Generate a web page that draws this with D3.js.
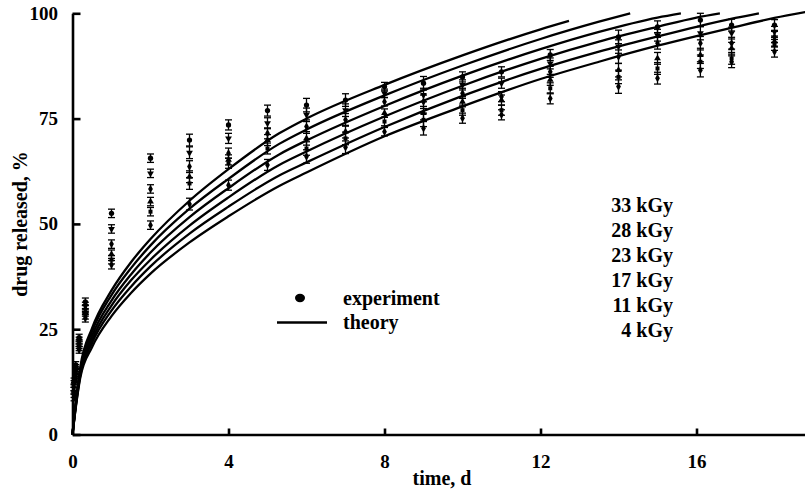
<!DOCTYPE html>
<html>
<head>
<meta charset="utf-8">
<script src="https://cdn.jsdelivr.net/npm/d3@7"></script>
<style>
  body { margin: 0; background: #fff; }
  svg text { font-family: "Liberation Serif", "Times New Roman", serif; font-weight: bold; fill: #000; }
</style>
</head>
<body>
<svg id="chart"></svg>
<script>
// Measurement times (days) and drug released (%) per dose
const expTimes = [0.04, 0.083, 0.17, 0.33, 1, 2, 3, 4, 5, 6, 7, 8, 9, 10, 11, 12.25, 14, 15, 16.1, 16.9, 18];
const exp33 = [12.6, 16.5, 23.0, 31.5, 52.5, 65.6, 69.9, 73.5, 76.9, 78.2, 79.4, 82.6, 83.4, 84.9, 86.1, 90.1, 94.4, 96.8, 98.4, 97.2, 97.2];
const exp28 = [12.0, 15.8, 22.3, 30.5, 48.8, 62.0, 66.9, 70.3, 73.9, 75.9, 77.0, 81.0, 80.6, 83.0, 83.4, 88.1, 92.1, 94.8, 95.3, 95.3, 95.6];
const exp23 = [11.2, 15.2, 21.7, 29.8, 45.2, 58.3, 63.6, 66.8, 71.5, 73.1, 74.7, 79.0, 79.0, 81.0, 80.2, 86.1, 89.7, 92.9, 92.9, 92.9, 94.4];
const exp17 = [10.4, 14.6, 21.2, 29.0, 42.8, 55.3, 61.2, 65.2, 69.9, 70.3, 71.9, 76.3, 76.3, 79.0, 79.4, 84.2, 86.5, 89.3, 90.1, 91.7, 93.3];
const exp11 = [9.6, 14.0, 20.7, 28.3, 41.5, 52.9, 59.6, 64.4, 67.9, 67.9, 70.3, 74.3, 74.7, 77.0, 77.0, 82.2, 84.9, 86.9, 88.5, 89.3, 92.5];
const exp4 = [8.8, 13.4, 20.1, 27.6, 40.3, 49.7, 54.7, 59.2, 64.0, 66.0, 68.2, 71.9, 72.7, 75.1, 75.9, 79.8, 82.6, 84.6, 86.5, 88.5, 90.9];
// error (+/-) at each time
const expErr = [0.8, 0.8, 0.8, 0.9, 1.0, 1.0, 1.4, 1.2, 1.3, 1.6, 1.5, 1.0, 1.6, 1.2, 1.2, 1.3, 1.6, 1.4, 1.6, 1.4, 1.3];

// Theory curves
const theoryT = [0, 0.1, 0.2, 0.5, 1, 1.5, 2, 3, 4, 5.3, 6, 8, 10, 12];
const theory33 = [0, 9.0, 16.0, 25.2, 34.2, 40.9, 46.4, 55.5, 63.0, 71.5, 75.0, 83.0, 90.0, 96.2];
const theory28 = [0, 8.7, 15.4, 24.4, 33.1, 39.5, 44.9, 53.6, 60.7, 69.0, 72.4, 80.5, 87.6, 93.9];
const theory23 = [0, 8.4, 14.9, 23.4, 31.8, 38.0, 43.2, 51.6, 58.5, 66.5, 69.8, 78.0, 85.2, 91.5];
const theory17 = [0, 8.1, 14.4, 22.5, 30.6, 36.6, 41.5, 49.6, 56.3, 64.0, 67.2, 75.5, 82.8, 89.2];
const theory11 = [0, 7.8, 14.0, 21.7, 29.4, 35.1, 39.9, 47.7, 54.1, 61.5, 64.6, 73.0, 80.4, 86.8];
const theory4 = [0, 7.5, 13.5, 20.7, 28.1, 33.6, 38.2, 45.6, 51.8, 59.0, 62.2, 70.8, 77.9, 84.4];
// tails after t = 12 (each curve stops near 100 %)
const tail33T = [12.73], tail33 = [98.2];
const tail28T = [13.5, 14.3], tail28 = [98.0, 100];
const tail23T = [13.5, 15, 15.6], tail23 = [95.6, 99.0, 100];
const tail17T = [13.5, 15, 16, 16.6], tail17 = [93.3, 96.8, 99.0, 100];
const tail11T = [13.5, 15, 16, 17, 17.6], tail11 = [90.9, 94.5, 96.8, 98.9, 100];
const tail4T = [13.5, 15, 16, 17, 18, 18.8], tail4 = [88.5, 92.3, 94.6, 96.8, 98.9, 100.3];

const doseLabels = ["33 kGy", "28 kGy", "23 kGy", "17 kGy", "11 kGy", "4 kGy"];
const xTicks = [0, 4, 8, 12, 16];
const yTicks = [0, 25, 50, 75, 100];

const W = 805, H = 494;
const svg = d3.select("#chart").attr("width", W).attr("height", H);

const x = d3.scaleLinear().domain([0, 18.8]).range([72.5, 805.7]);
const y = d3.scaleLinear().domain([0, 100]).range([434.5, 13.3]);

// theory lines
const theorySets = [
  [theory33, tail33T, tail33], [theory28, tail28T, tail28], [theory23, tail23T, tail23],
  [theory17, tail17T, tail17], [theory11, tail11T, tail11], [theory4, tail4T, tail4]
];
const line = d3.line().x(d => x(d[0])).y(d => y(d[1])).curve(d3.curveMonotoneX);
theorySets.forEach(s => {
  const pts = theoryT.map((t, i) => [t, s[0][i]]).concat(s[1].map((t, i) => [t, s[2][i]]));
  svg.append("path")
    .datum(pts)
    .attr("d", line)
    .attr("fill", "none")
    .attr("stroke", "#000")
    .attr("stroke-width", 2.3);
});

// experimental points with error bars
const expSets = [exp33, exp28, exp23, exp17, exp11, exp4];
const symbols = [
  d3.symbol().type(d3.symbolCircle).size(22),
  d3.symbol().type(d3.symbolTriangle).size(20),
  d3.symbol().type(d3.symbolDiamond).size(20),
  d3.symbol().type(d3.symbolTriangle).size(20),
  d3.symbol().type(d3.symbolSquare).size(16),
  d3.symbol().type(d3.symbolDiamond).size(20)
];
const expG = svg.append("g");
expSets.forEach((vals, k) => {
  vals.forEach((v, i) => {
    const cx = x(expTimes[i]);
    const e = expErr[i];
    expG.append("line")
      .attr("x1", cx).attr("x2", cx)
      .attr("y1", y(v - e)).attr("y2", y(v + e))
      .attr("stroke", "#000").attr("stroke-width", 1.3);
    [v - e, v + e].forEach(c => {
      expG.append("line")
        .attr("x1", cx - 3.5).attr("x2", cx + 3.5)
        .attr("y1", y(c)).attr("y2", y(c))
        .attr("stroke", "#000").attr("stroke-width", 1.3);
    });
    expG.append("path")
      .attr("d", symbols[k]())
      .attr("transform", `translate(${cx},${y(v)})` + (k === 1 ? " rotate(180)" : ""))
      .attr("fill", "#000");
  });
});

// axes
const xAxis = svg.append("g")
  .attr("transform", `translate(0,${y(0)})`)
  .call(d3.axisBottom(x).tickValues(xTicks).tickSizeInner(-6).tickSizeOuter(0).tickPadding(20));
const yAxis = svg.append("g")
  .attr("transform", `translate(${x(0)},0)`)
  .call(d3.axisLeft(y).tickValues(yTicks).tickSizeInner(-8).tickSizeOuter(0).tickPadding(14.5));
[xAxis, yAxis].forEach(a => {
  a.select(".domain").attr("stroke", "#000").attr("stroke-width", 2.6);
  a.selectAll(".tick line").attr("stroke", "#000").attr("stroke-width", 2.6);
  a.selectAll(".tick text").style("font-size", "19px").style("font-family", "Liberation Serif").style("font-weight", "bold");
});

// axis titles
svg.append("text")
  .attr("x", 442).attr("y", 485)
  .attr("text-anchor", "middle")
  .style("font-size", "20px")
  .text("time, d");
svg.append("text")
  .attr("transform", "translate(27,224) rotate(-90)")
  .attr("text-anchor", "middle")
  .style("font-size", "20px")
  .text("drug released, %");

// legend
svg.append("ellipse")
  .attr("cx", 300).attr("cy", 298).attr("rx", 5).attr("ry", 4.2)
  .attr("fill", "#000");
svg.append("line")
  .attr("x1", 277).attr("x2", 327).attr("y1", 322.5).attr("y2", 322.5)
  .attr("stroke", "#000").attr("stroke-width", 2.5);
svg.append("text").attr("x", 343).attr("y", 298).attr("dy", "0.35em")
  .style("font-size", "20px").text("experiment");
svg.append("text").attr("x", 343).attr("y", 322).attr("dy", "0.35em")
  .style("font-size", "20px").text("theory");

// dose labels
svg.selectAll(".dose")
  .data(doseLabels)
  .enter().append("text")
  .attr("class", "dose")
  .attr("x", 673)
  .attr("y", (d, i) => 205 + i * 25)
  .attr("dy", "0.35em")
  .attr("text-anchor", "end")
  .style("font-size", "20px")
  .text(d => d);
</script>
</body>
</html>
